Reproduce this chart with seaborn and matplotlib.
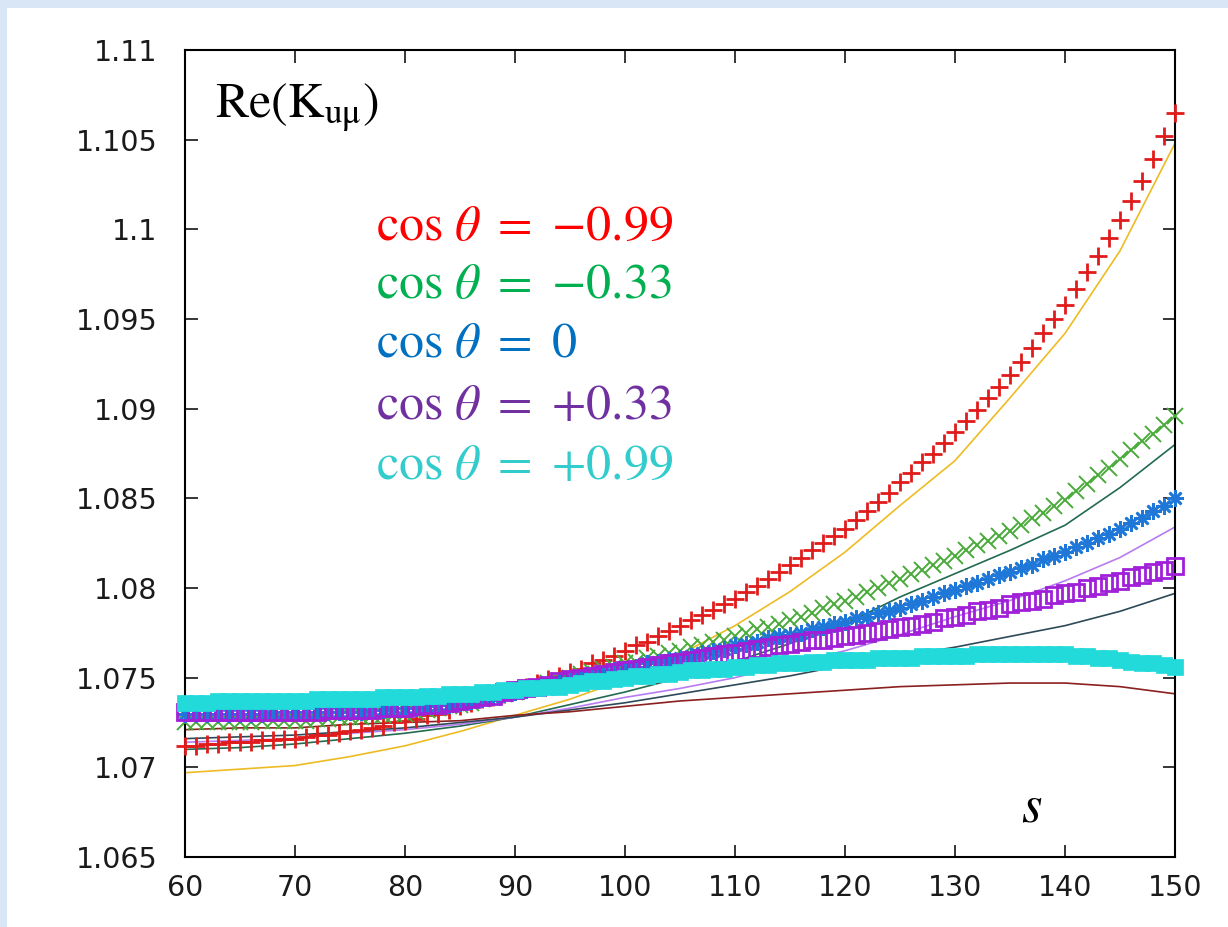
import matplotlib
matplotlib.use("Agg")
import matplotlib.pyplot as plt
import seaborn as sns
from matplotlib.patches import Rectangle

# ---------------- data ----------------
S_MARK = list(range(60, 151))            # s positions of the marker series (one marker per unit)
S_LINE = [60, 65, 70, 75, 80, 85, 90, 95, 100, 105, 110, 115, 120, 125, 130, 135, 140, 145, 150]

re_m099 = [1.0712, 1.0712, 1.0713, 1.0713, 1.0714, 1.0714,
           1.0714, 1.0715, 1.0715, 1.0716, 1.0716,
           1.0717, 1.0718, 1.0718, 1.0719, 1.0720,
           1.0721, 1.0722, 1.0723, 1.0725, 1.0726,
           1.0727, 1.0729, 1.0730, 1.0732, 1.0734,
           1.0736, 1.0738, 1.0739, 1.0741, 1.0743,
           1.0745, 1.0747, 1.0749, 1.0751, 1.0753,
           1.0755, 1.0758, 1.0760, 1.0762, 1.0765,
           1.0768, 1.0770, 1.0773, 1.0776, 1.0779,
           1.0782, 1.0785, 1.0788, 1.0791, 1.0794,
           1.0798, 1.0801, 1.0805, 1.0809, 1.0813,
           1.0817, 1.0821, 1.0825, 1.0829, 1.0833,
           1.0838, 1.0843, 1.0848, 1.0853, 1.0859,
           1.0864, 1.0870, 1.0875, 1.0881, 1.0887,
           1.0893, 1.0899, 1.0906, 1.0912, 1.0919,
           1.0926, 1.0934, 1.0942, 1.0950, 1.0958,
           1.0967, 1.0976, 1.0985, 1.0995, 1.1005,
           1.1016, 1.1027, 1.1039, 1.1052, 1.1065]

re_m033 = [1.0725, 1.0725, 1.0725, 1.0725, 1.0725, 1.0725,
           1.0725, 1.0726, 1.0726, 1.0726, 1.0726,
           1.0726, 1.0727, 1.0727, 1.0728, 1.0728,
           1.0728, 1.0729, 1.0729, 1.0730, 1.0730,
           1.0731, 1.0732, 1.0733, 1.0734, 1.0735,
           1.0736, 1.0738, 1.0739, 1.0741, 1.0742,
           1.0744, 1.0745, 1.0747, 1.0748, 1.0750,
           1.0752, 1.0753, 1.0755, 1.0756, 1.0758,
           1.0759, 1.0761, 1.0762, 1.0764, 1.0765,
           1.0767, 1.0768, 1.0770, 1.0771, 1.0773,
           1.0775, 1.0777, 1.0778, 1.0780, 1.0782,
           1.0784, 1.0786, 1.0789, 1.0791, 1.0793,
           1.0795, 1.0798, 1.0800, 1.0803, 1.0805,
           1.0808, 1.0810, 1.0813, 1.0815, 1.0818,
           1.0821, 1.0824, 1.0826, 1.0829, 1.0832,
           1.0835, 1.0839, 1.0842, 1.0846, 1.0849,
           1.0854, 1.0858, 1.0863, 1.0867, 1.0872,
           1.0877, 1.0882, 1.0886, 1.0891, 1.0896]

re_0 = [1.0730, 1.0730, 1.0730, 1.0730, 1.0730, 1.0730,
        1.0730, 1.0730, 1.0731, 1.0731, 1.0731,
        1.0731, 1.0731, 1.0731, 1.0731, 1.0731,
        1.0731, 1.0732, 1.0732, 1.0733, 1.0733,
        1.0733, 1.0734, 1.0735, 1.0735, 1.0736,
        1.0737, 1.0738, 1.0739, 1.0741, 1.0742,
        1.0743, 1.0745, 1.0746, 1.0747, 1.0749,
        1.0750, 1.0751, 1.0752, 1.0754, 1.0755,
        1.0756, 1.0758, 1.0759, 1.0760, 1.0761,
        1.0762, 1.0764, 1.0765, 1.0766, 1.0768,
        1.0769, 1.0770, 1.0772, 1.0773, 1.0774,
        1.0775, 1.0777, 1.0778, 1.0780, 1.0781,
        1.0783, 1.0784, 1.0786, 1.0787, 1.0789,
        1.0791, 1.0793, 1.0795, 1.0797, 1.0799,
        1.0801, 1.0803, 1.0805, 1.0807, 1.0809,
        1.0811, 1.0813, 1.0816, 1.0818, 1.0820,
        1.0823, 1.0825, 1.0828, 1.0830, 1.0833,
        1.0836, 1.0839, 1.0843, 1.0846, 1.0850]

re_p033 = [1.0731, 1.0731, 1.0731, 1.0731, 1.0731, 1.0731,
           1.0731, 1.0731, 1.0731, 1.0731, 1.0731,
           1.0731, 1.0731, 1.0732, 1.0732, 1.0732,
           1.0732, 1.0732, 1.0733, 1.0733, 1.0733,
           1.0734, 1.0735, 1.0735, 1.0736, 1.0737,
           1.0738, 1.0739, 1.0740, 1.0742, 1.0743,
           1.0744, 1.0745, 1.0746, 1.0748, 1.0749,
           1.0750, 1.0751, 1.0752, 1.0753, 1.0754,
           1.0755, 1.0756, 1.0757, 1.0758, 1.0759,
           1.0760, 1.0761, 1.0762, 1.0763, 1.0764,
           1.0765, 1.0766, 1.0767, 1.0768, 1.0769,
           1.0770, 1.0771, 1.0771, 1.0772, 1.0773,
           1.0774, 1.0775, 1.0776, 1.0777, 1.0778,
           1.0779, 1.0780, 1.0781, 1.0783, 1.0784,
           1.0785, 1.0787, 1.0788, 1.0789, 1.0791,
           1.0792, 1.0793, 1.0794, 1.0796, 1.0797,
           1.0798, 1.0800, 1.0801, 1.0803, 1.0804,
           1.0806, 1.0807, 1.0809, 1.0810, 1.0812]

re_p099 = [1.0736, 1.0736, 1.0736, 1.0737, 1.0737, 1.0737,
           1.0737, 1.0737, 1.0737, 1.0737, 1.0737,
           1.0737, 1.0738, 1.0738, 1.0738, 1.0738,
           1.0738, 1.0738, 1.0739, 1.0739, 1.0739,
           1.0739, 1.0740, 1.0740, 1.0741, 1.0741,
           1.0741, 1.0742, 1.0742, 1.0743, 1.0743,
           1.0744, 1.0744, 1.0745, 1.0745, 1.0746,
           1.0747, 1.0748, 1.0748, 1.0749, 1.0750,
           1.0751, 1.0751, 1.0752, 1.0752, 1.0753,
           1.0754, 1.0754, 1.0755, 1.0755, 1.0756,
           1.0756, 1.0757, 1.0757, 1.0758, 1.0758,
           1.0758, 1.0759, 1.0759, 1.0760, 1.0760,
           1.0760, 1.0760, 1.0761, 1.0761, 1.0761,
           1.0761, 1.0762, 1.0762, 1.0762, 1.0762,
           1.0762, 1.0763, 1.0763, 1.0763, 1.0763,
           1.0763, 1.0763, 1.0763, 1.0763, 1.0763,
           1.0762, 1.0762, 1.0761, 1.0761, 1.0760,
           1.0759, 1.0758, 1.0758, 1.0757, 1.0756]

# thin comparison curves
line_yellow = [1.0697, 1.0699, 1.0701, 1.0706, 1.0712, 1.0720, 1.0729, 1.0738, 1.0749, 1.0763,
               1.0779, 1.0798, 1.0820, 1.0846, 1.0871, 1.0906, 1.0942, 1.0988, 1.1048]
line_dgreen = [1.0710, 1.0711, 1.0713, 1.0716, 1.0719, 1.0723, 1.0728, 1.0735, 1.0742, 1.0750,
               1.0759, 1.0769, 1.0780, 1.0795, 1.0808, 1.0821, 1.0835, 1.0856, 1.0880]
line_violet = [1.0714, 1.0715, 1.0716, 1.0719, 1.0721, 1.0724, 1.0728, 1.0733, 1.0739, 1.0744,
               1.0750, 1.0758, 1.0765, 1.0774, 1.0784, 1.0793, 1.0804, 1.0817, 1.0834]
line_slate = [1.0716, 1.0717, 1.0718, 1.0720, 1.0722, 1.0725, 1.0728, 1.0732, 1.0736, 1.0741,
              1.0746, 1.0751, 1.0757, 1.0762, 1.0767, 1.0773, 1.0779, 1.0787, 1.0797]
line_brown = [1.0721, 1.0722, 1.0722, 1.0724, 1.0725, 1.0726, 1.0729, 1.0731, 1.0734, 1.0737,
              1.0739, 1.0741, 1.0743, 1.0745, 1.0746, 1.0747, 1.0747, 1.0745, 1.0741]

X_TICKS = [60, 70, 80, 90, 100, 110, 120, 130, 140, 150]
Y_TICKS = [1.065, 1.07, 1.075, 1.08, 1.085, 1.09, 1.095, 1.1, 1.105, 1.11]
Y_TICK_LABELS = ["1.065", "1.07", "1.075", "1.08", "1.085", "1.09", "1.095", "1.1", "1.105", "1.11"]

LEGEND_TEXTS = [r"$\cos\,\theta\ =\ {-}0.99$", r"$\cos\,\theta\ =\ {-}0.33$", r"$\cos\,\theta\ =\ 0$",
                r"$\cos\,\theta\ =\ {+}0.33$", r"$\cos\,\theta\ =\ {+}0.99$"]
LEGEND_COLORS = ["#ff0000", "#00b050", "#0070c0", "#7030a0", "#33cccc"]

# ---------------- style ----------------
sns.set_style("ticks")
plt.rcParams["font.family"] = ["DejaVu Sans"]
plt.rcParams["mathtext.fontset"] = "stix"

W, H = 1228, 927
fig = plt.figure(figsize=(W / 100, H / 100), dpi=100, facecolor="#d8e6f5")
fig.patches.append(Rectangle((7 / W, 0), 1 - 7 / W, 1 - 8 / H, transform=fig.transFigure,
                             facecolor="white", edgecolor="none", zorder=-10))
ax = fig.add_axes([185 / W, 70 / H, 990 / W, 807 / H])
ax.set_facecolor("white")

# thin lines
for vals, col in [(line_yellow, "#eebb22"), (line_dgreen, "#226b4f"), (line_violet, "#b77cf0"),
                  (line_slate, "#2e4a58"), (line_brown, "#8b2020")]:
    sns.lineplot(x=S_LINE, y=vals, ax=ax, color=col, linewidth=1.2, legend=False, zorder=2)

# marker series
common = dict(ax=ax, linestyle="", legend=False, clip_on=False)
sns.lineplot(x=S_MARK, y=re_m099, marker="+", markersize=13, markeredgewidth=2.0,
             color="#e01b1b", markeredgecolor="#e01b1b", zorder=3, **common)
sns.lineplot(x=S_MARK, y=re_m033, marker="x", markersize=12, markeredgewidth=1.4,
             color="#4aaa3c", markeredgecolor="#4aaa3c", zorder=3, **common)
sns.lineplot(x=S_MARK, y=re_0, marker=(8, 2, 0), markersize=12, markeredgewidth=1.9,
             color="#1f78d8", markeredgecolor="#1f78d8", zorder=3, **common)
sns.lineplot(x=S_MARK, y=re_p033, marker="s", markersize=11, markeredgewidth=2.0,
             color="#a020d8", markeredgecolor="#a020d8", markerfacecolor="none", zorder=3, **common)
sns.lineplot(x=S_MARK, y=re_p099, marker="s", markersize=11, markeredgewidth=0.5,
             color="#22dada", markeredgecolor="#22dada", markerfacecolor="#22dada", zorder=4, **common)

# axes
ax.set_xlim(60, 150)
ax.set_ylim(1.065, 1.11)
ax.set_xticks(X_TICKS)
ax.set_xticklabels([str(v) for v in X_TICKS])
ax.set_yticks(Y_TICKS)
ax.set_yticklabels(Y_TICK_LABELS)
ax.set_xlabel("")
ax.set_ylabel("")
ax.tick_params(direction="in", length=9, width=1.3, top=True, right=True,
               labelsize=20.5, labelcolor="#1a1a1a")
ax.tick_params(axis="x", pad=12)
ax.tick_params(axis="y", pad=20)
for sp in ax.spines.values():
    sp.set_visible(True)
    sp.set_linewidth(1.5)
    sp.set_color("black")

def ftext(px, py, s, **kw):
    fig.text(px / W, 1 - py / H, s, va="baseline", ha="left", **kw)

ftext(215, 118, r"$\mathrm{Re(K_{uμ})}$", fontsize=36, color="black")
baselines = [240, 298, 357, 419, 479]
for txt, col, by in zip(LEGEND_TEXTS, LEGEND_COLORS, baselines):
    ftext(376, by, txt, fontsize=36, color=col)
ftext(1021, 821, r"$s$", fontsize=38, color="black")

fig.savefig("out.png", dpi=100, facecolor=fig.get_facecolor())
